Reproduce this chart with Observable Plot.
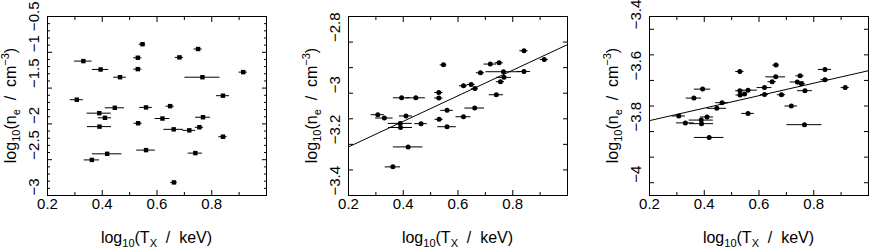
<!DOCTYPE html>
<html><head><meta charset="utf-8">
<script src="https://cdn.jsdelivr.net/npm/d3@7"></script>
<script src="https://cdn.jsdelivr.net/npm/@observablehq/plot@0.6"></script>
<style>
body{margin:0;background:#fff;}
#chart{position:relative;width:869px;height:249px;overflow:hidden;background:#fff;}
#chart svg{position:absolute;top:0;overflow:visible;}
</style></head><body><div id="chart"></div>
<script>
// log10(T_X / keV) for each cluster and its half error bar
const logT = [0.307, 0.331, 0.362, 0.389, 0.390, 0.394, 0.410, 0.418, 0.446, 0.465, 0.530, 0.530, 0.531, 0.547, 0.560, 0.560, 0.620, 0.620, 0.648, 0.661, 0.662, 0.682, 0.718, 0.740, 0.750, 0.755, 0.766, 0.768, 0.841, 0.841, 0.915];
const logTerr = [0.024, 0.032, 0.028, 0.044, 0.044, 0.030, 0.024, 0.054, 0.035, 0.023, 0.015, 0.015, 0.015, 0.012, 0.023, 0.034, 0.027, 0.015, 0.015, 0.036, 0.012, 0.015, 0.023, 0.026, 0.015, 0.015, 0.064, 0.027, 0.024, 0.015, 0.015];
// log10(n_e / cm^-3) in the three panels
const neLeft = [-1.662, -1.123, -2.503, -1.850, -2.038, -1.240, -1.915, -2.418, -1.775, -1.348, -1.076, -1.235, -1.991, -0.887, -1.770, -2.366, -1.925, null, -1.752, -2.076, -2.817, -1.071, -2.090, -2.408, -0.954, -2.047, -1.348, -1.907, -1.606, -2.179, -1.277];
const neMiddle = [-3.084, -3.097, -3.288, -3.118, -3.134, -3.018, -3.089, -3.210, -3.018, -3.119, -2.997, -3.019, -3.102, -2.889, -3.067, -3.131, -3.092, -2.971, -2.966, -3.058, -2.982, -2.920, -2.886, -3.006, -2.881, -2.955, -2.916, -2.938, -2.915, -2.834, -2.868];
const neRight = [-3.739, -3.766, -3.669, -3.755, -3.769, -3.634, -3.743, -3.823, -3.709, -3.687, -3.565, -3.640, -3.657, -3.653, -3.729, -3.638, -3.628, -3.655, -3.605, -3.586, -3.540, -3.656, -3.700, -3.606, -3.582, -3.613, -3.773, -3.640, -3.557, -3.597, -3.628];
// fitted lines: [intercept, slope]
const fitMiddle = [-3.31, 0.50];
const fitRight = [-3.806, 0.244];

// axes
const xDomain = [0.2, 1.0];
const xMajor = [0.2, 0.4, 0.6, 0.8, 1.0];
const xMinor = [0.3, 0.5, 0.7, 0.9];
const xLabels = [0.2, 0.4, 0.6, 0.8];
const yDomainLeft = [-3, -0.5];
const yMajorLeft = [-3, -2.5, -2, -1.5, -1, -0.5];
const yMinorLeft = [-2.9, -2.8, -2.7, -2.6, -2.4, -2.3, -2.2, -2.1, -1.9, -1.8, -1.7, -1.6, -1.4, -1.3, -1.2, -1.1, -0.9, -0.8, -0.7, -0.6];
const yLabelsLeft = [-3, -2.5, -2, -1.5, -1];
const yLabelsLeftTop = [-0.5];
const yDomainMiddle = [-3.4, -2.7];
const yMajorMiddle = [-3.4, -3.3, -3.2, -3.1, -3.0, -2.9, -2.8];
const yMinorMiddle = [];
const yLabelsMiddle = [-3.4, -3.2, -3, -2.8];
const yDomainRight = [-4.05, -3.35];
const yMajorRight = [-4.0, -3.9, -3.8, -3.7, -3.6, -3.5, -3.4];
const yMinorRight = [];
const yLabelsRight = [-4, -3.8, -3.6, -3.4];

const FONT = "'Liberation Sans', Arial, sans-serif";
const fmt = d => String(d).replace("-", "\u2212");

function panel({left, width, marginLeft, marginRight, ne, yDomain, yMajor, yMinor, yLabels, yLabelsTop = [], fit, symbol}) {
  const data = logT.map((T, i) => ({T, err: logTerr[i], ne: ne[i]})).filter(d => d.ne != null);
  const marks = [
    Plot.frame({stroke: "black", strokeWidth: 1}),
    Plot.axisX({anchor: "bottom", ticks: xMajor, tickSize: 5, dy: -5, fill: "none"}),
    Plot.axisX({anchor: "top", ticks: xMajor, tickSize: 5, dy: 5, fill: "none"}),
    Plot.axisX({anchor: "bottom", ticks: xMinor, tickSize: 3, dy: -3, fill: "none"}),
    Plot.axisX({anchor: "top", ticks: xMinor, tickSize: 3, dy: 3, fill: "none"}),
    Plot.axisY({anchor: "left", ticks: yMajor, tickSize: 5, dx: 5, fill: "none"}),
    Plot.axisY({anchor: "right", ticks: yMajor, tickSize: 5, dx: -5, fill: "none"}),
    Plot.axisY({anchor: "left", ticks: yMinor, tickSize: 3, dx: 3, fill: "none"}),
    Plot.axisY({anchor: "right", ticks: yMinor, tickSize: 3, dx: -3, fill: "none"}),
    Plot.text(xLabels, {x: d => d, frameAnchor: "bottom", dy: 13, text: fmt, fontSize: 15, fill: "black"}),
    Plot.text(yLabels, {y: d => d, frameAnchor: "left", dx: -13, rotate: -90, text: fmt, fontSize: 15, fill: "black"}),
    Plot.text(yLabelsTop, {y: d => d, frameAnchor: "left", dx: -13, dy: -15, rotate: -90, textAnchor: "end", text: fmt, fontSize: 15, fill: "black"}),
    Plot.ruleY(data, {y: "ne", x1: d => d.T - d.err, x2: d => d.T + d.err, stroke: "black", strokeWidth: 1}),
    Plot.dot(data, {x: "T", y: "ne", r: 2.5, symbol, fill: "black", stroke: null})
  ];
  if (fit) {
    const pts = xDomain.map(x => ({x, y: fit[0] + fit[1] * x}));
    marks.push(Plot.line(pts, {x: "x", y: "y", stroke: "black", strokeWidth: 1}));
  }
  const svg = Plot.plot({
    width, height: 249, marginLeft, marginRight, marginTop: 16, marginBottom: 54,
    x: {domain: xDomain},
    y: {domain: yDomain},
    style: {fontFamily: FONT, color: "black", background: "white", overflow: "visible"},
    marks
  });
  svg.style.left = left + "px";
  const s = d3.select(svg);
  const fx0 = marginLeft, fx1 = width - marginRight;
  const cy = (16 + 195) / 2;
  // y title
  const yt = s.append("text")
    .attr("transform", `translate(${fx0 - 31},${cy}) rotate(-90)`)
    .attr("text-anchor", "middle").attr("font-size", 16).attr("fill", "black")
    .attr("font-family", FONT).style("white-space", "pre");
  yt.append("tspan").text("log");
  yt.append("tspan").attr("font-size", 11).attr("dy", 4).text("10");
  yt.append("tspan").attr("dy", -4).text("(n");
  yt.append("tspan").attr("font-size", 11).attr("dy", 4).text("e");
  yt.append("tspan").attr("dy", -4).text("  /  cm");
  yt.append("tspan").attr("font-size", 11).attr("dy", -7).text("\u22123");
  yt.append("tspan").attr("dy", 7).text(")");
  // x title
  const xt = s.append("text")
    .attr("x", (fx0 + fx1) / 2).attr("y", 243)
    .attr("text-anchor", "middle").attr("font-size", 16).attr("fill", "black")
    .attr("font-family", FONT).style("white-space", "pre");
  xt.append("tspan").text("log");
  xt.append("tspan").attr("font-size", 11).attr("dy", 4).text("10");
  xt.append("tspan").attr("dy", -4).text("(T");
  xt.append("tspan").attr("font-size", 11).attr("dy", 4).text("X");
  xt.append("tspan").attr("dy", -4).text("  /  keV)");
  return svg;
}

const chart = document.getElementById("chart");
chart.append(panel({left: 0, width: 290, marginLeft: 47, marginRight: 24, ne: neLeft, yDomain: yDomainLeft, yMajor: yMajorLeft, yMinor: yMinorLeft, yLabels: yLabelsLeft, yLabelsTop: yLabelsLeftTop, fit: null, symbol: "square"}));
chart.append(panel({left: 290, width: 290, marginLeft: 58, marginRight: 13, ne: neMiddle, yDomain: yDomainMiddle, yMajor: yMajorMiddle, yMinor: yMinorMiddle, yLabels: yLabelsMiddle, fit: fitMiddle, symbol: "circle"}));
chart.append(panel({left: 580, width: 289, marginLeft: 69, marginRight: 1, ne: neRight, yDomain: yDomainRight, yMajor: yMajorRight, yMinor: yMinorRight, yLabels: yLabelsRight, fit: fitRight, symbol: "circle"}));
</script>
</body></html>
